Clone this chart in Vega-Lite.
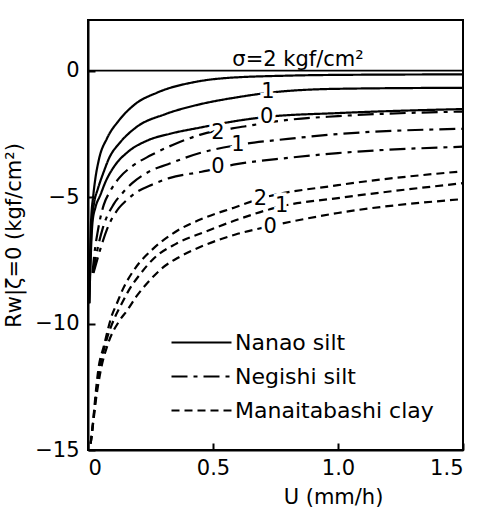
{
  "$schema": "https://vega.github.io/schema/vega-lite/v6.json",
  "width": 375,
  "height": 430,
  "autosize": {"type": "none"},
  "padding": {"left": 88, "top": 20, "right": 14, "bottom": 71},
  "config": {
    "view": {"stroke": "black", "strokeWidth": 2},
    "font": "DejaVu Sans",
    "axis": {
      "domainColor": "black", "domainWidth": 2, "tickColor": "black", "tickWidth": 2,
      "labelColor": "black", "titleColor": "black", "grid": false,
      "labelFont": "DejaVu Sans", "titleFont": "DejaVu Sans",
      "labelFontSize": 21, "titleFontSize": 21, "titleFontWeight": "normal"
    }
  },
  "datasets": {
    "zero": [{"r": 0}],
    "curves": [
      {"soil": "Nanao silt", "sigma": 2, "u": 0.005, "r": -9.2},
      {"soil": "Nanao silt", "sigma": 2, "u": 0.012, "r": -6.0},
      {"soil": "Nanao silt", "sigma": 2, "u": 0.021, "r": -4.95},
      {"soil": "Nanao silt", "sigma": 2, "u": 0.029, "r": -4.3},
      {"soil": "Nanao silt", "sigma": 2, "u": 0.044, "r": -3.5},
      {"soil": "Nanao silt", "sigma": 2, "u": 0.076, "r": -2.68},
      {"soil": "Nanao silt", "sigma": 2, "u": 0.123, "r": -1.98},
      {"soil": "Nanao silt", "sigma": 2, "u": 0.188, "r": -1.33},
      {"soil": "Nanao silt", "sigma": 2, "u": 0.277, "r": -0.87},
      {"soil": "Nanao silt", "sigma": 2, "u": 0.434, "r": -0.44},
      {"soil": "Nanao silt", "sigma": 2, "u": 0.545, "r": -0.3},
      {"soil": "Nanao silt", "sigma": 2, "u": 0.8, "r": -0.2},
      {"soil": "Nanao silt", "sigma": 2, "u": 1.0, "r": -0.17},
      {"soil": "Nanao silt", "sigma": 2, "u": 1.5, "r": -0.15},
      {"soil": "Nanao silt", "sigma": 1, "u": 0.005, "r": -9.2},
      {"soil": "Nanao silt", "sigma": 1, "u": 0.015, "r": -6.0},
      {"soil": "Nanao silt", "sigma": 1, "u": 0.025, "r": -5.2},
      {"soil": "Nanao silt", "sigma": 1, "u": 0.039, "r": -4.69},
      {"soil": "Nanao silt", "sigma": 1, "u": 0.063, "r": -4.0},
      {"soil": "Nanao silt", "sigma": 1, "u": 0.084, "r": -3.47},
      {"soil": "Nanao silt", "sigma": 1, "u": 0.1285, "r": -2.84},
      {"soil": "Nanao silt", "sigma": 1, "u": 0.193, "r": -2.24},
      {"soil": "Nanao silt", "sigma": 1, "u": 0.31, "r": -1.72},
      {"soil": "Nanao silt", "sigma": 1, "u": 0.44, "r": -1.35},
      {"soil": "Nanao silt", "sigma": 1, "u": 0.6, "r": -1.05},
      {"soil": "Nanao silt", "sigma": 1, "u": 0.72, "r": -0.88},
      {"soil": "Nanao silt", "sigma": 1, "u": 1.0, "r": -0.72},
      {"soil": "Nanao silt", "sigma": 1, "u": 1.5, "r": -0.68},
      {"soil": "Nanao silt", "sigma": 0, "u": 0.005, "r": -9.2},
      {"soil": "Nanao silt", "sigma": 0, "u": 0.018, "r": -6.0},
      {"soil": "Nanao silt", "sigma": 0, "u": 0.03, "r": -5.4},
      {"soil": "Nanao silt", "sigma": 0, "u": 0.049, "r": -4.93},
      {"soil": "Nanao silt", "sigma": 0, "u": 0.07, "r": -4.4},
      {"soil": "Nanao silt", "sigma": 0, "u": 0.106, "r": -3.77},
      {"soil": "Nanao silt", "sigma": 0, "u": 0.159, "r": -3.22},
      {"soil": "Nanao silt", "sigma": 0, "u": 0.236, "r": -2.77},
      {"soil": "Nanao silt", "sigma": 0, "u": 0.327, "r": -2.5},
      {"soil": "Nanao silt", "sigma": 0, "u": 0.445, "r": -2.26},
      {"soil": "Nanao silt", "sigma": 0, "u": 0.6, "r": -1.98},
      {"soil": "Nanao silt", "sigma": 0, "u": 0.715, "r": -1.83},
      {"soil": "Nanao silt", "sigma": 0, "u": 1.0, "r": -1.68},
      {"soil": "Nanao silt", "sigma": 0, "u": 1.5, "r": -1.52},
      {"soil": "Negishi silt", "sigma": 2, "u": 0.018, "r": -8.0},
      {"soil": "Negishi silt", "sigma": 2, "u": 0.025, "r": -7.3},
      {"soil": "Negishi silt", "sigma": 2, "u": 0.04, "r": -6.3},
      {"soil": "Negishi silt", "sigma": 2, "u": 0.063, "r": -5.31},
      {"soil": "Negishi silt", "sigma": 2, "u": 0.088, "r": -4.78},
      {"soil": "Negishi silt", "sigma": 2, "u": 0.125, "r": -4.24},
      {"soil": "Negishi silt", "sigma": 2, "u": 0.174, "r": -3.8},
      {"soil": "Negishi silt", "sigma": 2, "u": 0.251, "r": -3.35},
      {"soil": "Negishi silt", "sigma": 2, "u": 0.341, "r": -2.93},
      {"soil": "Negishi silt", "sigma": 2, "u": 0.447, "r": -2.54},
      {"soil": "Negishi silt", "sigma": 2, "u": 0.625, "r": -2.21},
      {"soil": "Negishi silt", "sigma": 2, "u": 0.8, "r": -1.95},
      {"soil": "Negishi silt", "sigma": 2, "u": 1.0, "r": -1.8},
      {"soil": "Negishi silt", "sigma": 2, "u": 1.5, "r": -1.62},
      {"soil": "Negishi silt", "sigma": 1, "u": 0.02, "r": -8.0},
      {"soil": "Negishi silt", "sigma": 1, "u": 0.035, "r": -7.2},
      {"soil": "Negishi silt", "sigma": 1, "u": 0.06, "r": -6.2},
      {"soil": "Negishi silt", "sigma": 1, "u": 0.103, "r": -5.28},
      {"soil": "Negishi silt", "sigma": 1, "u": 0.14, "r": -4.82},
      {"soil": "Negishi silt", "sigma": 1, "u": 0.178, "r": -4.44},
      {"soil": "Negishi silt", "sigma": 1, "u": 0.243, "r": -4.0},
      {"soil": "Negishi silt", "sigma": 1, "u": 0.32, "r": -3.7},
      {"soil": "Negishi silt", "sigma": 1, "u": 0.451, "r": -3.25},
      {"soil": "Negishi silt", "sigma": 1, "u": 0.6, "r": -2.94},
      {"soil": "Negishi silt", "sigma": 1, "u": 0.8, "r": -2.7},
      {"soil": "Negishi silt", "sigma": 1, "u": 1.0, "r": -2.51},
      {"soil": "Negishi silt", "sigma": 1, "u": 1.5, "r": -2.3},
      {"soil": "Negishi silt", "sigma": 0, "u": 0.022, "r": -8.0},
      {"soil": "Negishi silt", "sigma": 0, "u": 0.045, "r": -7.2},
      {"soil": "Negishi silt", "sigma": 0, "u": 0.077, "r": -6.25},
      {"soil": "Negishi silt", "sigma": 0, "u": 0.124, "r": -5.43},
      {"soil": "Negishi silt", "sigma": 0, "u": 0.154, "r": -5.13},
      {"soil": "Negishi silt", "sigma": 0, "u": 0.192, "r": -4.82},
      {"soil": "Negishi silt", "sigma": 0, "u": 0.258, "r": -4.5},
      {"soil": "Negishi silt", "sigma": 0, "u": 0.325, "r": -4.25},
      {"soil": "Negishi silt", "sigma": 0, "u": 0.455, "r": -4.0},
      {"soil": "Negishi silt", "sigma": 0, "u": 0.594, "r": -3.7},
      {"soil": "Negishi silt", "sigma": 0, "u": 0.8, "r": -3.45},
      {"soil": "Negishi silt", "sigma": 0, "u": 1.0, "r": -3.26},
      {"soil": "Negishi silt", "sigma": 0, "u": 1.5, "r": -3.01},
      {"soil": "Manaitabashi clay", "sigma": 2, "u": 0.0106, "r": -14.75},
      {"soil": "Manaitabashi clay", "sigma": 2, "u": 0.021, "r": -13.83},
      {"soil": "Manaitabashi clay", "sigma": 2, "u": 0.028, "r": -13.04},
      {"soil": "Manaitabashi clay", "sigma": 2, "u": 0.041, "r": -11.84},
      {"soil": "Manaitabashi clay", "sigma": 2, "u": 0.064, "r": -10.87},
      {"soil": "Manaitabashi clay", "sigma": 2, "u": 0.0965, "r": -9.65},
      {"soil": "Manaitabashi clay", "sigma": 2, "u": 0.114, "r": -9.24},
      {"soil": "Manaitabashi clay", "sigma": 2, "u": 0.142, "r": -8.59},
      {"soil": "Manaitabashi clay", "sigma": 2, "u": 0.19, "r": -7.8},
      {"soil": "Manaitabashi clay", "sigma": 2, "u": 0.261, "r": -7.04},
      {"soil": "Manaitabashi clay", "sigma": 2, "u": 0.349, "r": -6.38},
      {"soil": "Manaitabashi clay", "sigma": 2, "u": 0.466, "r": -5.82},
      {"soil": "Manaitabashi clay", "sigma": 2, "u": 0.584, "r": -5.42},
      {"soil": "Manaitabashi clay", "sigma": 2, "u": 0.69, "r": -5.06},
      {"soil": "Manaitabashi clay", "sigma": 2, "u": 1.0, "r": -4.53},
      {"soil": "Manaitabashi clay", "sigma": 2, "u": 1.5, "r": -3.98},
      {"soil": "Manaitabashi clay", "sigma": 1, "u": 0.0106, "r": -14.75},
      {"soil": "Manaitabashi clay", "sigma": 1, "u": 0.021, "r": -13.83},
      {"soil": "Manaitabashi clay", "sigma": 1, "u": 0.03, "r": -13.0},
      {"soil": "Manaitabashi clay", "sigma": 1, "u": 0.045, "r": -11.9},
      {"soil": "Manaitabashi clay", "sigma": 1, "u": 0.07, "r": -10.8},
      {"soil": "Manaitabashi clay", "sigma": 1, "u": 0.109, "r": -9.72},
      {"soil": "Manaitabashi clay", "sigma": 1, "u": 0.134, "r": -9.23},
      {"soil": "Manaitabashi clay", "sigma": 1, "u": 0.163, "r": -8.69},
      {"soil": "Manaitabashi clay", "sigma": 1, "u": 0.207, "r": -8.07},
      {"soil": "Manaitabashi clay", "sigma": 1, "u": 0.263, "r": -7.43},
      {"soil": "Manaitabashi clay", "sigma": 1, "u": 0.352, "r": -6.85},
      {"soil": "Manaitabashi clay", "sigma": 1, "u": 0.469, "r": -6.37},
      {"soil": "Manaitabashi clay", "sigma": 1, "u": 0.587, "r": -5.93},
      {"soil": "Manaitabashi clay", "sigma": 1, "u": 0.775, "r": -5.36},
      {"soil": "Manaitabashi clay", "sigma": 1, "u": 1.0, "r": -5.04},
      {"soil": "Manaitabashi clay", "sigma": 1, "u": 1.5, "r": -4.45},
      {"soil": "Manaitabashi clay", "sigma": 0, "u": 0.0106, "r": -14.75},
      {"soil": "Manaitabashi clay", "sigma": 0, "u": 0.022, "r": -13.83},
      {"soil": "Manaitabashi clay", "sigma": 0, "u": 0.032, "r": -13.0},
      {"soil": "Manaitabashi clay", "sigma": 0, "u": 0.05, "r": -11.9},
      {"soil": "Manaitabashi clay", "sigma": 0, "u": 0.08, "r": -10.8},
      {"soil": "Manaitabashi clay", "sigma": 0, "u": 0.125, "r": -9.9},
      {"soil": "Manaitabashi clay", "sigma": 0, "u": 0.156, "r": -9.49},
      {"soil": "Manaitabashi clay", "sigma": 0, "u": 0.192, "r": -8.95},
      {"soil": "Manaitabashi clay", "sigma": 0, "u": 0.241, "r": -8.36},
      {"soil": "Manaitabashi clay", "sigma": 0, "u": 0.298, "r": -7.8},
      {"soil": "Manaitabashi clay", "sigma": 0, "u": 0.367, "r": -7.36},
      {"soil": "Manaitabashi clay", "sigma": 0, "u": 0.472, "r": -6.88},
      {"soil": "Manaitabashi clay", "sigma": 0, "u": 0.59, "r": -6.48},
      {"soil": "Manaitabashi clay", "sigma": 0, "u": 0.729, "r": -6.15},
      {"soil": "Manaitabashi clay", "sigma": 0, "u": 1.0, "r": -5.63},
      {"soil": "Manaitabashi clay", "sigma": 0, "u": 1.5, "r": -5.08}
    ],
    "labels": [
      {"u": 0.72, "r": -0.86, "t": "1"},
      {"u": 0.715, "r": -1.83, "t": "0"},
      {"u": 0.52, "r": -2.45, "t": "2"},
      {"u": 0.6, "r": -2.94, "t": "1"},
      {"u": 0.52, "r": -3.8, "t": "0"},
      {"u": 0.69, "r": -5.06, "t": "2"},
      {"u": 0.775, "r": -5.36, "t": "1"},
      {"u": 0.729, "r": -6.18, "t": "0"}
    ],
    "sigmaLabel": [{"u": 0.84, "r": 0.05, "t": "σ=2 kgf/cm²"}]
  },
  "layer": [
    {
      "data": {"name": "zero"},
      "mark": {"type": "rule", "color": "black", "strokeWidth": 1.6},
      "encoding": {
        "y": {"field": "r", "type": "quantitative", "scale": {"domain": [-15, 2]}}
      }
    },
    {
      "data": {"name": "curves"},
      "mark": {"type": "line", "color": "black", "strokeWidth": 2.2, "interpolate": "monotone"},
      "encoding": {
        "x": {
          "field": "u", "type": "quantitative",
          "scale": {"domain": [0, 1.5], "nice": false},
          "axis": {"values": [0, 0.5, 1.0, 1.5], "format": ".1f", "labelExpr": "datum.value == 0 ? '0' : datum.label", "tickSize": -7, "labelPadding": 14, "title": "U   (mm/h)", "titlePadding": 8, "titleX": 245}
        },
        "y": {
          "field": "r", "type": "quantitative",
          "scale": {"domain": [-15, 2], "nice": false},
          "axis": {"values": [0, -5, -10, -15], "format": "d", "tickSize": -7, "labelPadding": 16, "title": "Rw|ζ=0  (kgf/cm²)", "titlePadding": 10}
        },
        "detail": {"field": "sigma", "type": "nominal"},
        "strokeDash": {
          "field": "soil", "type": "nominal",
          "scale": {"domain": ["Nanao silt", "Negishi silt", "Manaitabashi clay"], "range": [[1, 0], [16, 6, 4, 6], [8, 5]]},
          "legend": {
            "orient": "none", "legendX": 82, "legendY": 306, "title": null,
            "symbolType": "M-1,0H3", "symbolSize": 900, "symbolStrokeWidth": 2.2, "symbolStrokeColor": "black", "symbolFillColor": "transparent",
            "labelFontSize": 22, "labelColor": "black", "labelLimit": 400, "labelOffset": 32, "rowPadding": 6
          }
        }
      }
    },
    {
      "data": {"name": "labels"},
      "mark": {"type": "text", "fontSize": 21, "stroke": "white", "strokeWidth": 7, "fill": "white", "align": "center", "baseline": "middle"},
      "encoding": {
        "x": {"field": "u", "type": "quantitative"},
        "y": {"field": "r", "type": "quantitative"},
        "text": {"field": "t"}
      }
    },
    {
      "data": {"name": "labels"},
      "mark": {"type": "text", "fontSize": 21, "color": "black", "align": "center", "baseline": "middle"},
      "encoding": {
        "x": {"field": "u", "type": "quantitative"},
        "y": {"field": "r", "type": "quantitative"},
        "text": {"field": "t"}
      }
    },
    {
      "data": {"name": "sigmaLabel"},
      "mark": {"type": "text", "fontSize": 21, "color": "black", "align": "center", "baseline": "bottom", "dy": 1},
      "encoding": {
        "x": {"field": "u", "type": "quantitative"},
        "y": {"field": "r", "type": "quantitative"},
        "text": {"field": "t"}
      }
    }
  ]
}
